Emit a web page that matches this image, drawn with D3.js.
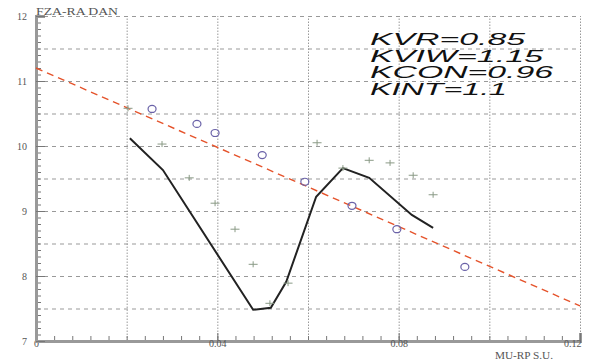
<!DOCTYPE html>
<html>
<head>
<meta charset="utf-8">
<script src="https://cdn.jsdelivr.net/npm/d3@7"></script>
<style>
  body { margin: 0; background: #fff; }
  svg { display: block; }
  .tick text { font-family: "Liberation Serif", "DejaVu Serif", serif; fill: #555; }
</style>
</head>
<body>
<svg id="chart" width="593" height="362"></svg>
<script>
// fitted trend line (dashed red)
const trendX = [0, 0.12];
const trendY = [11.2, 7.54];

// measured points on the trend (circles)
const circX = [0.0256, 0.0355, 0.0395, 0.0499, 0.0593, 0.0697, 0.0796, 0.0946];
const circY = [10.57, 10.34, 10.2, 9.86, 9.45, 9.08, 8.72, 8.14];

// scattered points (pluses)
const plusX = [0.0203, 0.0278, 0.0338, 0.0395, 0.0439, 0.0479, 0.0516, 0.0556, 0.062, 0.0677, 0.0735, 0.0781, 0.0832, 0.0876];
const plusY = [10.58, 10.03, 9.51, 9.12, 8.72, 8.18, 7.58, 7.89, 10.05, 9.66, 9.78, 9.74, 9.55, 9.25];

// model curve (black)
const curveX = [0.0207, 0.028, 0.0479, 0.0518, 0.0552, 0.0618, 0.0677, 0.0735, 0.0829, 0.0876];
const curveY = [10.12, 9.63, 7.48, 7.51, 7.91, 9.22, 9.66, 9.51, 8.94, 8.74];

const xLabels = [0, 0.04, 0.08, 0.12];
const yLabels = [7, 8, 9, 10, 11, 12];
const notes = ["KVR=0.85", "KVIW=1.15", "KCON=0.96", "KINT=1.1"];
const noteWidths = [155, 173, 183, 137];

const svg = d3.select('#chart');
const x = d3.scaleLinear().domain([0, 0.12]).range([36, 580]);
const y = d3.scaleLinear().domain([7, 12]).range([341, 16]);
const plotH = y(7) - y(12), plotW = x(0.12) - x(0);

//Grid lines.
svg.append('g')
    .attr('transform', `translate(0,${y(7)})`)
    .call(d3.axisBottom(x).tickValues(d3.range(1, 7).map(i => i * 0.02)).tickSize(-plotH).tickFormat(''))
    .call(g => g.select('.domain').remove())
    .selectAll('line')
    .attr('stroke', '#999').attr('stroke-dasharray', '1.5,1.5');

svg.append('g')
    .attr('transform', `translate(${x(0)},0)`)
    .call(d3.axisLeft(y).tickValues(d3.range(15, 25).map(i => i * 0.5)).tickSize(-plotW).tickFormat(''))
    .call(g => g.select('.domain').remove())
    .selectAll('line')
    .attr('stroke', '#999').attr('stroke-dasharray', '4,4');

//Minor ticks.
svg.append('g')
    .attr('transform', `translate(0,${y(7)})`)
    .call(d3.axisBottom(x).tickValues(d3.range(0, 31).map(i => i * 0.004)).tickSize(-5).tickFormat(''))
    .call(g => g.select('.domain').remove())
    .selectAll('line').attr('stroke', '#777');

svg.append('g')
    .attr('transform', `translate(${x(0)},0)`)
    .call(d3.axisLeft(y).tickValues(d3.range(70, 121).map(i => i / 10)).tickSize(-5).tickFormat(''))
    .call(g => g.select('.domain').remove())
    .selectAll('line').attr('stroke', '#777');

//Labelled axes.
const xAxis = svg.append('g')
    .attr('transform', `translate(0,${y(7)})`)
    .call(d3.axisBottom(x).tickValues(xLabels).tickSize(-8).tickPadding(-1).tickFormat(d => d === 0 ? '0' : d3.format('.2f')(d)));
xAxis.selectAll('text').attr('font-size', 10);
xAxis.selectAll('.tick').filter(d => d === 0.12).select('text').attr('text-anchor', 'end').attr('dx', 1);
xAxis.selectAll('line').attr('stroke', '#777');
xAxis.select('.domain').attr('stroke', '#999').attr('stroke-width', 3);

const yAxis = svg.append('g')
    .attr('transform', `translate(${x(0)},0)`)
    .call(d3.axisLeft(y).tickValues(yLabels).tickSize(-9).tickPadding(9).tickFormat(d3.format('d')));
yAxis.selectAll('text').attr('font-size', 10);
yAxis.selectAll('line').attr('stroke', '#777');
yAxis.select('.domain').attr('stroke', '#999').attr('stroke-width', 3);

//Axis titles.
svg.append('text')
    .attr('x', 36).attr('y', 15)
    .attr('textLength', 82).attr('lengthAdjust', 'spacingAndGlyphs')
    .style('font-family', '"Liberation Serif", serif').style('font-size', '10px').style('fill', '#555')
    .text('FZA-RA DAN');
svg.append('text')
    .attr('x', 495).attr('y', 359)
    .attr('textLength', 58).attr('lengthAdjust', 'spacingAndGlyphs')
    .style('font-family', '"Liberation Serif", serif').style('font-size', '10px').style('fill', '#555')
    .text('MU-RP S.U.');

//Trend line.
svg.append('line')
    .attr('x1', x(trendX[0])).attr('y1', y(trendY[0]))
    .attr('x2', x(trendX[1])).attr('y2', y(trendY[1]))
    .attr('stroke', '#e5532b').attr('stroke-width', 1.4).attr('stroke-dasharray', '7,5');

//Model curve.
svg.append('path')
    .datum(d3.range(curveX.length))
    .attr('fill', 'none').attr('stroke', '#222').attr('stroke-width', 2)
    .attr('d', d3.line().x(i => x(curveX[i])).y(i => y(curveY[i])));

//Pluses.
svg.append('g').selectAll('path')
    .data(d3.range(plusX.length))
    .join('path')
    .attr('transform', i => `translate(${x(plusX[i])},${y(plusY[i])})`)
    .attr('d', 'M-4.5,0H4.5M0,-3V3')
    .attr('stroke', '#8a9a86').attr('stroke-width', 1);

//Circles.
svg.append('g').selectAll('ellipse')
    .data(d3.range(circX.length))
    .join('ellipse')
    .attr('cx', i => x(circX[i])).attr('cy', i => y(circY[i]))
    .attr('rx', 4).attr('ry', 3.5)
    .attr('fill', 'none').attr('stroke', '#6a62a8').attr('stroke-width', 1.2);

//Coefficient notes.
svg.append('g').selectAll('text')
    .data(notes)
    .join('text')
    .attr('x', 370).attr('y', (d, i) => 45 + i * 16.7)
    .attr('textLength', (d, i) => noteWidths[i]).attr('lengthAdjust', 'spacingAndGlyphs')
    .style('font-family', '"Liberation Sans", Arial, sans-serif')
    .style('font-style', 'italic').style('font-size', '16px').style('fill', '#111')
    .text(d => d);
</script>
</body>
</html>
